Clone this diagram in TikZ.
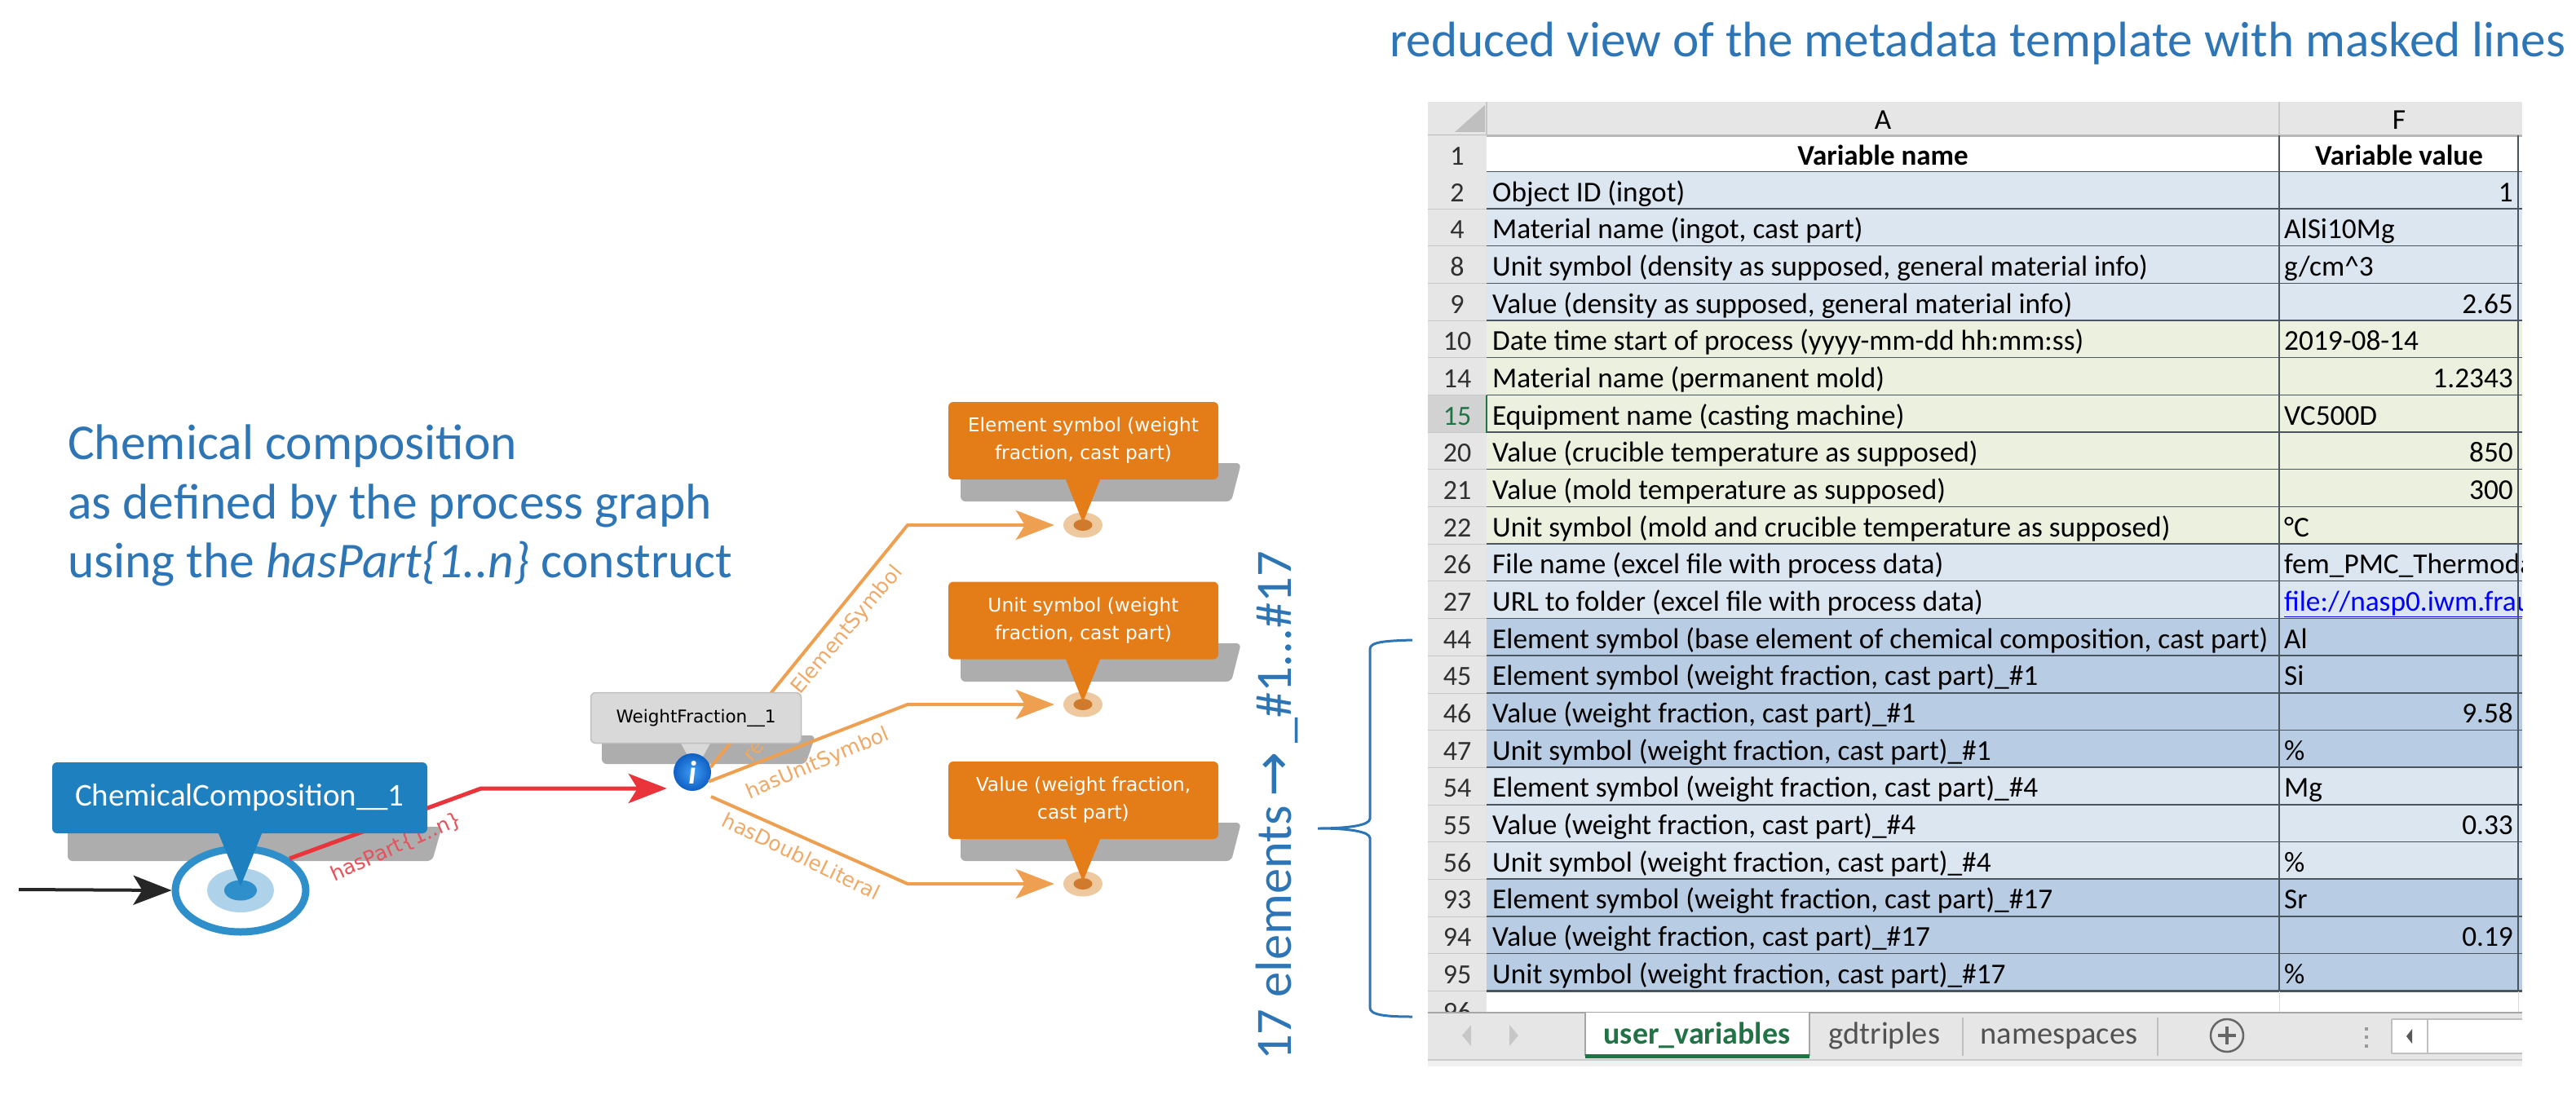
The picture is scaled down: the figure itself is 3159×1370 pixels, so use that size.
\documentclass[tikz,border=0pt]{standalone}
\usepackage{fontspec}
\setmainfont{Carlito}
\newfontfamily\graphfont{DejaVu Sans}
\usetikzlibrary{positioning,calc,arrows.meta,shapes.geometric}

\definecolor{titleblue}{HTML}{2E75B6}
\definecolor{chemblue}{HTML}{1F80BF}
\definecolor{ringblue}{HTML}{2F8FCB}
\definecolor{ringlight}{HTML}{AED2EA}
\definecolor{shadowgray}{HTML}{ADADAD}
\definecolor{partred}{HTML}{E8343A}
\definecolor{partlabel}{HTML}{E8505A}
\definecolor{boxorange}{HTML}{E47C18}
\definecolor{edgeorange}{HTML}{EF9F50}
\definecolor{labelorange}{HTML}{F0A865}
\definecolor{dotouter}{HTML}{EEC9A0}
\definecolor{dotinner}{HTML}{CF7A2C}
\definecolor{fractiongray}{HTML}{D9D9D9}
\definecolor{infolight}{HTML}{3F9DF2}
\definecolor{infodark}{HTML}{0F5FC4}
\definecolor{headgray}{HTML}{E6E6E6}
\definecolor{headsel}{HTML}{D2D2D2}
\definecolor{numgray}{HTML}{303030}
\definecolor{excelgreen}{HTML}{217346}
\definecolor{gridline}{HTML}{4A5560}
\definecolor{bandblue}{HTML}{DCE6F1}
\definecolor{bandgreen}{HTML}{EBF1DE}
\definecolor{bandmid}{HTML}{B8CCE4}
\definecolor{linkblue}{HTML}{0000FF}

\begin{document}
\begin{tikzpicture}[x=1pt, y=-1pt, >={Stealth[length=47pt, width=36pt, inset=11pt]},
 bluetext/.style = {text=titleblue, inner sep=0pt, font=\fontsize{61.5}{72}\selectfont},
 shadowbox/.style = {fill=shadowgray, rounded corners=6pt},
 chembox/.style = {fill=chemblue, rounded corners=6pt, inner sep=0pt, text=white, minimum width=460pt, minimum height=87pt, font=\fontsize{39}{44}\selectfont},
 fractionbox/.style = {fill=fractiongray, draw=black!25, line width=1.5pt, rounded corners=6pt, inner sep=0pt, minimum width=258pt, minimum height=62pt, font=\graphfont\fontsize{21.5}{26}\selectfont},
 symbolbox/.style = {fill=boxorange, rounded corners=6pt, inner sep=0pt, text=white, align=center, minimum width=331pt, minimum height=95pt, font=\graphfont\fontsize{23.3}{34}\selectfont},
 edgelabel/.style = {text=labelorange, inner sep=0pt, font=\graphfont\fontsize{25}{28}\selectfont},
 orangeedge/.style = {->, draw=edgeorange, line width=4pt},
 dotring/.style = {ellipse, fill=dotouter, minimum width=48pt, minimum height=31pt, inner sep=0pt},
 dotcore/.style = {ellipse, fill=dotinner, minimum width=23pt, minimum height=14pt, inner sep=0pt},
 rownum/.style = {anchor=base, inner sep=0pt, font=\fontsize{34}{38}\selectfont},
 cell/.style = {inner sep=0pt, font=\fontsize{35.3}{40}\selectfont},
 sheettab/.style = {anchor=base, inner sep=0pt, text=black!68, font=\fontsize{38.5}{44}\selectfont}]

\useasboundingbox (0,0) rectangle (3159,1370);

% captions
\node[bluetext, anchor=base west, font=\fontsize{61.2}{72}\selectfont] (viewtitle) at (1704,70) {reduced view of the metadata template with masked lines};
\node[bluetext, anchor=base west] (captiona) at (83,563) {Chemical composition};
\node[bluetext, anchor=base west] (captionb) at (83,636) {as defined by the process graph};
\node[bluetext, anchor=base west] (captionc) at (83,708) {using the \textit{hasPart\{1..n\}} construct};

% shadows
\fill[shadowbox] (83,1056) -- (530,1056) -- (542,1014) -- (83,1014) -- cycle;
\fill[shadowbox] (738,937) -- (988,937) -- (1000,902) -- (738,902) -- cycle;
\foreach \boxtop in {493,714,934}
 \fill[shadowbox] (1178,\boxtop+122) -- (1510,\boxtop+122) -- (1522,\boxtop+75) -- (1178,\boxtop+75) -- cycle;

% graph
\node[ellipse, draw=ringblue, line width=9pt, fill=white, minimum width=160pt, minimum height=102pt, inner sep=0pt] (chem) at (295,1092) {};
\node[ellipse, fill=ringlight, minimum width=82pt, minimum height=54pt, inner sep=0pt] (chemlight) at (295,1092) {};
\node[ellipse, fill=ringblue, minimum width=40pt, minimum height=25pt, inner sep=0pt] (chemcore) at (295,1092) {};

\coordinate (entry) at (23,1091);
\coordinate (partbend) at (590,967);
\coordinate (symbolbend) at (1113,644);
\coordinate (unitbend) at (1113,864);
\coordinate (valuebend) at (1113,1084);
\coordinate (valuestart) at (872,977);

\fill[fractiongray] (833,908) -- (845,930) -- (861,930) -- (873,908) -- cycle;
\node[circle, inner color=infolight, outer color=infodark, minimum size=46pt, inner sep=0pt, text=white, font=\bfseries\itshape\fontsize{40}{40}\selectfont] (info) at (849,947) {i};

\draw[->, black!85, line width=4pt] (entry) -- (chem.west);
\draw[->, partred, line width=5pt, shorten >=8pt] (chem.33) -- (partbend) -- (info.west |- partbend);

\node[dotring] (symbolring) at (1328,644) {};
\node[dotcore] (symbolcore) at (1328,644) {};
\node[dotring] (unitring) at (1328,864) {};
\node[dotcore] (unitcore) at (1328,864) {};
\node[dotring] (valuering) at (1328,1084) {};
\node[dotcore] (valuecore) at (1328,1084) {};

\draw[orangeedge, shorten >=11pt] (info.15) -- (symbolbend) -- (symbolring.west);
\draw[orangeedge, shorten >=11pt] (info.-30) -- (unitbend) -- (unitring.west);
\draw[orangeedge, shorten >=11pt] (valuestart) -- (valuebend) -- (valuering.west);

\node[rotate=24, text=partlabel, inner sep=0pt, font=\graphfont\fontsize{25}{28}\selectfont] (partlbl) at (486,1039) {hasPart\{1..n\}};
\node[edgelabel, rotate=50] (symbolhead) at (925,921) {re};
\node[edgelabel, rotate=50] (symbollbl) at (1039,773) {ElementSymbol};
\node[edgelabel, rotate=23] (unitlbl) at (1003,937) {hasUnitSymbol};
\node[edgelabel, rotate=-26] (valuelbl) at (983,1050) {hasDoubleLiteral};

% callouts
\fill[chemblue] (267,1020) -- (295,1087) -- (322,1020) -- cycle;
\node[chembox] (chemtag) at (294,978.5) {ChemicalComposition\_\_1};
\node[fractionbox] (fractiontag) at (853.5,880.5) {WeightFraction\_\_1};
\fill[boxorange] (1306,586) -- (1328,641) -- (1350,586) -- cycle;
\node[symbolbox] (symboltag) at (1328.5,540.5) {Element symbol (weight\\fraction, cast part)};
\fill[boxorange] (1306,806) -- (1328,861) -- (1350,806) -- cycle;
\node[symbolbox] (unittag) at (1328.5,761) {Unit symbol (weight\\fraction, cast part)};
\fill[boxorange] (1306,1027) -- (1328,1081) -- (1350,1027) -- cycle;
\node[symbolbox] (valuetag) at (1328.5,981.5) {Value (weight fraction,\\cast part)};

% vertical caption and brace
\node[bluetext, rotate=90, anchor=base west, font=\fontsize{62.5}{72}\selectfont] (elementstext) at (1583,1301) {17 elements\,{\graphfont\fontsize{66}{70}\selectfont →}\,\_\#1...\#17};
\coordinate (bracetop) at (1732,785);
\coordinate (bracetip) at (1616,1016);
\coordinate (bracebottom) at (1732,1247);
\draw[titleblue, line width=3pt] (bracetop) .. controls (1700,786) and (1680,787) .. (1680,796) -- (1680,1004) .. controls (1680,1012) and (1655,1016) .. (bracetip) .. controls (1655,1016) and (1680,1020) .. (1680,1028) -- (1680,1236) .. controls (1680,1245) and (1700,1247) .. (bracebottom);

% sheet
\begin{scope}
\clip (1751,120) rectangle (3093,1310);
\fill[headgray] (1751,125) rectangle (3093,166);
\fill[black!25] (1784,162) -- (1821,162) -- (1821,129) -- cycle;
\node[cell, anchor=base] (colA) at (2309,158) {A};
\node[cell, anchor=base] (colF) at (2942,158) {F};
\draw[black!28, line width=3pt] (1751,166) -- (3093,166);
\draw[black!22, line width=2pt] (1823,125) -- (1823,166);
\draw[black!22, line width=2pt] (2795,125) -- (2795,166);
\fill[headgray] (1751,166) rectangle (1823,211);
\node[rownum, text=numgray] (num1) at (1787,202) {1};
\node[cell, anchor=base, font=\bfseries\fontsize{35}{40}\selectfont] (varname) at (2309,202) {Variable name};
\node[cell, anchor=base, font=\bfseries\fontsize{35}{40}\selectfont] (varvalue) at (2942,202) {Variable value};
\draw[gridline, line width=3pt] (1823,211) -- (3093,211);

\foreach \rowno/\varlabel/\vallabel/\valx/\valanchor/\bandcolor [count=\k from 0] in {
 2/{Object ID (ingot)}/1/3082/base east/bandblue,
 4/{Material name (ingot, cast part)}/AlSi10Mg/2801/base west/bandblue,
 8/{Unit symbol (density as supposed, general material info)}/{g/cm\textasciicircum 3}/2801/base west/bandblue,
 9/{Value (density as supposed, general material info)}/2.65/3082/base east/bandblue,
 10/{Date time start of process (yyyy-mm-dd hh:mm:ss)}/2019-08-14/2801/base west/bandgreen,
 14/{Material name (permanent mold)}/1.2343/3082/base east/bandgreen,
 15/{Equipment name (casting machine)}/VC500D/2801/base west/bandgreen,
 20/{Value (crucible temperature as supposed)}/850/3082/base east/bandgreen,
 21/{Value (mold temperature as supposed)}/300/3082/base east/bandgreen,
 22/{Unit symbol (mold and crucible temperature as supposed)}/°C/2801/base west/bandgreen,
 26/{File name (excel file with process data)}/{fem\_PMC\_Thermoda}/2801/base west/bandblue,
 27/{URL to folder (excel file with process data)}/{\textcolor{linkblue}{\underline{file://nasp0.iwm.frau}}}/2801/base west/bandblue,
 44/{Element symbol (base element of chemical composition, cast part)}/Al/2801/base west/bandmid,
 45/{Element symbol (weight fraction, cast part)\_\#1}/Si/2801/base west/bandmid,
 46/{Value (weight fraction, cast part)\_\#1}/9.58/3082/base east/bandmid,
 47/{Unit symbol (weight fraction, cast part)\_\#1}/\%/2801/base west/bandmid,
 54/{Element symbol (weight fraction, cast part)\_\#4}/Mg/2801/base west/bandblue,
 55/{Value (weight fraction, cast part)\_\#4}/0.33/3082/base east/bandblue,
 56/{Unit symbol (weight fraction, cast part)\_\#4}/\%/2801/base west/bandblue,
 93/{Element symbol (weight fraction, cast part)\_\#17}/Sr/2801/base west/bandmid,
 94/{Value (weight fraction, cast part)\_\#17}/0.19/3082/base east/bandmid,
 95/{Unit symbol (weight fraction, cast part)\_\#17}/\%/2801/base west/bandmid}{
 \pgfmathsetmacro\ytop{211+45.68*\k}
 \ifnum\rowno=15 \def\numfill{headsel}\def\numtext{excelgreen}\else \def\numfill{headgray}\def\numtext{numgray}\fi
 \fill[\bandcolor] (1823,\ytop) rectangle (3093,\ytop+45.68);
 \fill[\numfill] (1751,\ytop) rectangle (1823,\ytop+45.68);
 \draw[black!22, line width=2pt] (1751,\ytop+45.68) -- (1823,\ytop+45.68);
 \draw[gridline, line width=3pt] (1823,\ytop+45.68) -- (3093,\ytop+45.68);
 \node[rownum, text=\numtext] (num\rowno) at (1787,\ytop+36) {\rowno};
 \node[cell, anchor=base west] (name\rowno) at (1830,\ytop+36) {\varlabel};
 \node[cell, anchor=\valanchor] (value\rowno) at (\valx,\ytop+36) {\vallabel};
}
\draw[gridline, line width=1.5pt] (2795,166) -- (2795,1216);
\draw[gridline, line width=1.5pt] (3088,166) -- (3088,1216);
\draw[excelgreen, line width=2.5pt] (1823,485) -- (1823,531);
\draw[black!15, line width=1pt] (2795,1216) -- (2795,1242);
\draw[black!15, line width=1pt] (3088,1216) -- (3088,1242);

% row 96 is cut by the tab bar
\fill[headgray] (1751,1216) rectangle (1823,1242);
\node[rownum, text=numgray] (num96) at (1787,1252) {96};

% tab bar
\fill[headgray] (1751,1242) rectangle (3093,1300);
\fill[black!6] (1751,1300) rectangle (3093,1308);
\draw[black!35, line width=2pt] (1751,1242) -- (3093,1242);
\draw[black!20, line width=2pt] (1751,1300) -- (3093,1300);
\fill[black!22] (1804,1257) -- (1793,1270) -- (1804,1283) -- cycle;
\fill[black!22] (1851,1257) -- (1862,1270) -- (1851,1283) -- cycle;
\fill[white] (1944,1242) rectangle (2219,1295);
\draw[black!35, line width=2pt] (1944,1242) -- (1944,1295);
\draw[black!35, line width=2pt] (2219,1242) -- (2219,1295);
\draw[excelgreen, line width=5pt] (1944,1295) -- (2219,1295);
\node[sheettab, text=excelgreen, font=\bfseries\fontsize{38}{44}\selectfont] (tabuser) at (2081,1280) {user\_variables};
\node[sheettab] (tabtriples) at (2311,1280) {gdtriples};
\node[sheettab] (tabspaces) at (2525,1280) {namespaces};
\draw[black!25, line width=1.5pt] (2407,1248) -- (2407,1295);
\draw[black!25, line width=1.5pt] (2646,1248) -- (2646,1295);
\node[circle, draw=black!60, line width=2.5pt, minimum size=40pt, inner sep=0pt] (addsheet) at (2731,1270) {};
\draw[black!60, line width=3.5pt] (2720,1270) -- (2742,1270);
\draw[black!60, line width=3.5pt] (2731,1259) -- (2731,1281);
\foreach \doty in {1260,1270,1281}
 \fill[black!40] (2900,\doty) rectangle (2904,\doty+4);
\fill[white] (2933,1250) rectangle (3093,1292);
\draw[black!25, line width=1.5pt] (2977,1250) -- (2977,1292);
\draw[black!25, line width=1.5pt] (2933,1250) -- (3093,1250) (2933,1292) -- (3093,1292) (2933,1250) -- (2933,1292);
\fill[black!65] (2958,1262) -- (2951,1271) -- (2958,1280) -- cycle;
\end{scope}
\end{tikzpicture}
\end{document}
